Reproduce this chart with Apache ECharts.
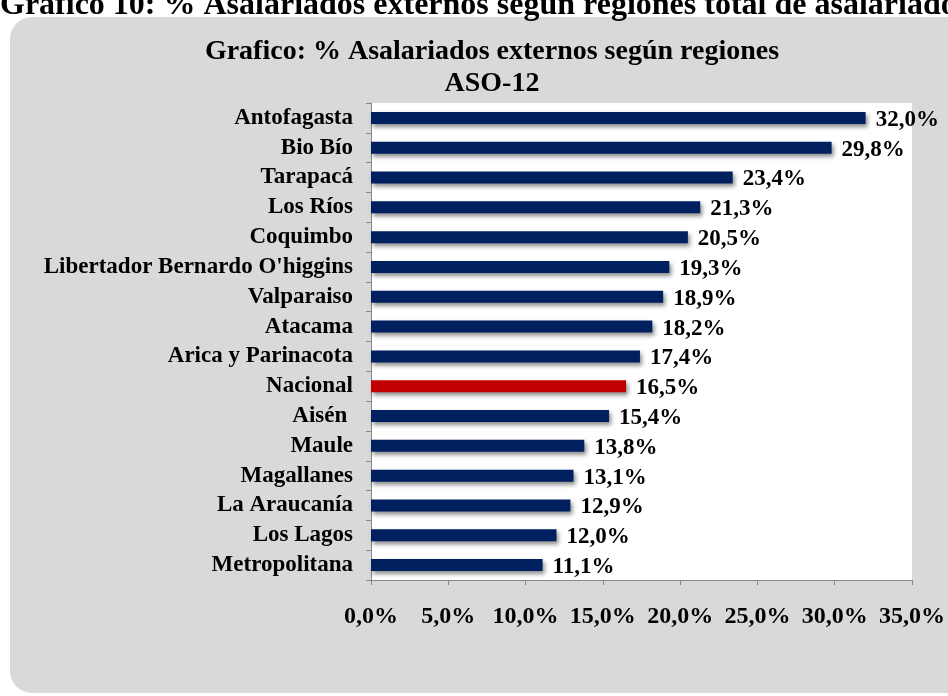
<!DOCTYPE html>
<html>
<head>
<meta charset="utf-8">
<script src="https://cdn.jsdelivr.net/npm/echarts@6/dist/echarts.min.js"></script>
<style>
  html, body { margin: 0; padding: 0; background: #fff; }
  #chart { width: 948px; height: 696px; }
</style>
</head>
<body>
<div id="chart"></div>
<script>
// regiones, de arriba hacia abajo
const regiones = ['Antofagasta', 'Bio Bío', 'Tarapacá', 'Los Ríos', 'Coquimbo',
  "Libertador Bernardo O'higgins", 'Valparaiso', 'Atacama', 'Arica y Parinacota',
  'Nacional', 'Aisén ', 'Maule', 'Magallanes', 'La Araucanía', 'Los Lagos', 'Metropolitana']
const porcentajes = [32.0, 29.8, 23.4, 21.3, 20.5, 19.3, 18.9, 18.2, 17.4,
  16.5, 15.4, 13.8, 13.1, 12.9, 12.0, 11.1]
const destacada = 'Nacional'

const serif = '"Liberation Serif", "Times New Roman", serif'
const fmt = v => v.toFixed(1).replace('.', ',') + '%'

const myChart = echarts.init(document.getElementById('chart'))
const option = {
  animation: false,
  graphic: [
    {
      type: 'rect',
      shape: { x: 10, y: 17, width: 980, height: 676, r: 22 },
      style: { fill: '#d9d9d9' },
      z: -10
    },
    {
      type: 'text',
      left: 0,
      top: -10,
      style: {
        text: 'Grafico 10: % Asalariados externos según regiones total de asalariados',
        font: 'bold 32px ' + serif,
        fill: '#000'
      }
    }
  ],
  title: {
    text: 'Grafico: % Asalariados externos según regiones\nASO-12',
    left: 487,
    textAlign: 'center',
    top: 31,
    textStyle: {
      fontFamily: serif,
      fontSize: 28,
      fontWeight: 'bold',
      color: '#000',
      lineHeight: 32
    }
  },
  grid: {
    left: 371,
    right: 35,
    top: 103,
    bottom: 116,
    show: true,
    backgroundColor: '#fff',
    borderWidth: 0
  },
  xAxis: {
    type: 'value',
    min: 0,
    max: 35,
    interval: 5,
    axisLine: { show: true, lineStyle: { color: '#888' } },
    axisTick: { show: true, length: 5, lineStyle: { color: '#888' } },
    splitLine: { show: false },
    axisLabel: {
      margin: 25,
      formatter: v => fmt(v),
      color: '#000',
      fontFamily: serif,
      fontSize: 24,
      fontWeight: 'bold'
    }
  },
  yAxis: {
    type: 'category',
    inverse: true,
    data: regiones,
    axisLine: { show: true, lineStyle: { color: '#888' } },
    axisTick: { show: true, length: 5, inside: false, lineStyle: { color: '#888' } },
    axisLabel: {
      interval: 0,
      margin: 18,
      color: '#000',
      fontFamily: serif,
      fontSize: 23,
      fontWeight: 'bold'
    }
  },
  series: [
    {
      type: 'bar',
      barWidth: 12,
      data: porcentajes.map((v, i) => ({
        value: v,
        itemStyle: { color: regiones[i] === destacada ? '#c00000' : '#002060' }
      })),
      itemStyle: {
        shadowColor: 'rgba(0,0,0,0.45)',
        shadowBlur: 4,
        shadowOffsetX: 2,
        shadowOffsetY: 3
      },
      label: {
        show: true,
        position: 'right',
        distance: 10,
        formatter: p => fmt(p.value),
        color: '#000',
        fontFamily: serif,
        fontSize: 23,
        fontWeight: 'bold',
        offset: [0, 2]
      }
    }
  ]
}
myChart.setOption(option)
</script>
</body>
</html>
